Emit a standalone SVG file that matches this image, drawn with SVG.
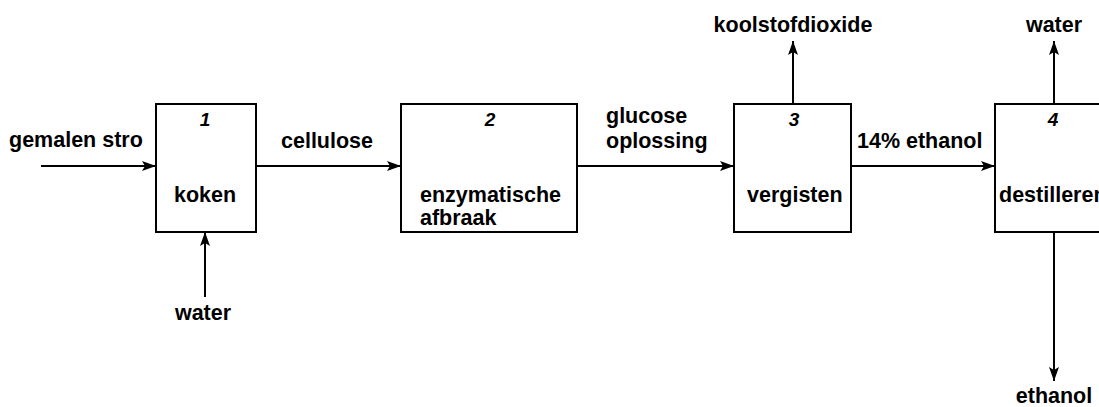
<svg xmlns="http://www.w3.org/2000/svg" width="1099" height="407" viewBox="0 0 1099 407">
<defs>
<marker id="arr" viewBox="0 0 14 10" refX="14" refY="5" markerWidth="14" markerHeight="10" markerUnits="userSpaceOnUse" orient="auto">
<path d="M0,0 L14,5 L0,10 L3,5 Z" fill="#000"/>
</marker>
<style>
.box{fill:#fff;stroke:#000;stroke-width:2}
.ln{stroke:#000;stroke-width:2;fill:none;marker-end:url(#arr)}
text{font-family:"Liberation Sans",Arial,sans-serif;font-weight:bold;font-size:21.5px;fill:#000}
.num{font-style:italic;font-size:19px;text-anchor:middle}
.mid{text-anchor:middle}
</style>
</defs>
<rect width="1099" height="407" fill="#fff"/>
<g id="connectors">
<line class="ln" x1="41" y1="166" x2="156" y2="166"/>
<line class="ln" x1="205" y1="297" x2="205" y2="232"/>
<line class="ln" x1="256" y1="166" x2="401" y2="166"/>
<line class="ln" x1="577" y1="166" x2="734" y2="166"/>
<line class="ln" x1="793" y1="104" x2="793" y2="41"/>
<line class="ln" x1="851" y1="166" x2="995" y2="166"/>
<line class="ln" x1="1054" y1="104" x2="1054" y2="41"/>
<line class="ln" x1="1054" y1="232" x2="1054" y2="381"/>
</g>
<g id="labels">
<text x="9" y="147">gemalen stro</text>
<text x="203" y="320" class="mid">water</text>
<text x="281" y="148">cellulose</text>
<text x="606" y="123">glucose</text>
<text x="606" y="148">oplossing</text>
<text x="793" y="32" class="mid">koolstofdioxide</text>
<text x="857" y="148">14% ethanol</text>
<text x="1054" y="32" class="mid">water</text>
<text x="1054" y="403" class="mid">ethanol</text>
</g>
<g id="node1">
<rect class="box" x="156" y="104" width="100" height="128"/>
<text x="205" y="126" class="num">1</text>
<text x="174" y="202">koken</text>
</g>
<g id="node2">
<rect class="box" x="401" y="104" width="176" height="128"/>
<text x="490" y="126" class="num">2</text>
<text x="420" y="202">enzymatische</text>
<text x="420" y="225">afbraak</text>
</g>
<g id="node3">
<rect class="box" x="734" y="104" width="117" height="128"/>
<text x="794" y="126" class="num">3</text>
<text x="747" y="202">vergisten</text>
</g>
<g id="node4">
<rect class="box" x="995" y="104" width="117" height="128"/>
<text x="1053" y="126" class="num">4</text>
<text x="999" y="202">destilleren</text>
</g>
</svg>
